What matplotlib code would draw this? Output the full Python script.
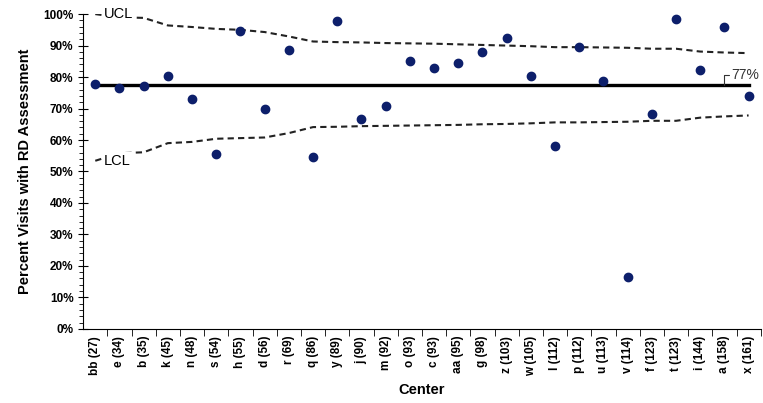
import matplotlib.pyplot as plt
from matplotlib.ticker import FixedLocator, MultipleLocator, PercentFormatter

centers = ["bb (27)", "e (34)", "b (35)", "k (45)", "n (48)", "s (54)", "h (55)",
           "d (56)", "r (69)", "q (86)", "y (89)", "j (90)", "m (92)", "o (93)",
           "c (93)", "aa (95)", "g (98)", "z (103)", "w (105)", "l (112)", "p (112)",
           "u (113)", "v (114)", "f (123)", "t (123)", "i (144)", "a (158)", "x (161)"]
pct = [77.9, 76.5, 77.2, 80.2, 72.9, 55.5, 94.7, 69.7, 88.5, 54.7, 97.9, 66.7,
       70.7, 85.2, 82.9, 84.4, 87.9, 92.5, 80.2, 58.1, 89.5, 78.9, 16.4, 68.4,
       98.6, 82.2, 95.9, 74.0]
ucl = [100.0, 99.0, 98.8, 96.4, 95.9, 95.3, 95.0, 94.3, 92.9, 91.3, 91.1, 91.0,
       90.8, 90.7, 90.6, 90.4, 90.2, 90.0, 89.8, 89.5, 89.5, 89.4, 89.3, 89.0,
       89.0, 88.1, 87.8, 87.6]
lcl = [53.4, 55.8, 56.1, 59.0, 59.4, 60.4, 60.6, 60.8, 62.2, 64.1, 64.2, 64.4,
       64.5, 64.6, 64.7, 64.8, 65.0, 65.1, 65.3, 65.6, 65.6, 65.7, 65.8, 66.1,
       66.1, 67.1, 67.5, 67.8]
center_line = 77.4

plt.rcParams['font.family'] = ['Liberation Sans', 'DejaVu Sans']

fig = plt.figure(figsize=(7.63, 4.03), dpi=100)
ax = fig.add_axes([0.109, 0.184, 0.888, 0.781])

x = list(range(len(centers)))
ax.plot(x, ucl, ls=(0, (3, 2)), color='#222222', lw=1.5, zorder=2)
ax.plot(x, lcl, ls=(0, (3, 2)), color='#222222', lw=1.5, zorder=2)
ax.plot([x[0], x[-1]], [center_line, center_line], color='black', lw=2.4, zorder=3)
ax.plot(x, pct, 'o', color='#0d1f6b', ms=6, zorder=4)

lbl = dict(fontsize=10.5, va='center', ha='left', zorder=5,
           bbox=dict(facecolor='white', edgecolor='none', pad=1))
ax.text(0.35, ucl[0], 'UCL', **lbl)
ax.text(0.35, lcl[0], 'LCL', **lbl)
ax.annotate('77%', xy=(26.0, center_line), xytext=(26.3, 80.5), fontsize=10,
            color='#333333', va='center', ha='left',
            arrowprops=dict(arrowstyle='-', color='#333333', lw=0.8,
                            connectionstyle='angle,angleA=0,angleB=90,rad=0',
                            shrinkA=0, shrinkB=0))

ax.set_xlim(-0.5, len(centers) - 0.5)
ax.set_ylim(0, 100)
ax.spines['top'].set_visible(False)
ax.spines['right'].set_visible(False)

ax.set_xticks(x)
ax.set_xticklabels(centers, rotation=90, fontsize=8.5, fontweight='bold')
ax.tick_params(axis='x', which='major', length=0, pad=5)
ax.xaxis.set_minor_locator(FixedLocator([i + 0.5 for i in range(len(centers))]))
ax.tick_params(axis='x', which='minor', length=5, direction='out')

ax.yaxis.set_major_locator(MultipleLocator(10))
ax.yaxis.set_minor_locator(MultipleLocator(2))
ax.yaxis.set_major_formatter(PercentFormatter(decimals=0))
ax.tick_params(axis='y', which='major', direction='inout', length=7, labelsize=8.5)
ax.tick_params(axis='y', which='minor', direction='out', length=3)
for t in ax.get_yticklabels():
    t.set_fontweight('bold')

ax.set_ylabel('Percent Visits with RD Assessment', fontsize=10.5, fontweight='bold', labelpad=8)
ax.set_xlabel('Center', fontsize=10.5, fontweight='bold', labelpad=5)

fig.savefig('out.png', dpi=100)
